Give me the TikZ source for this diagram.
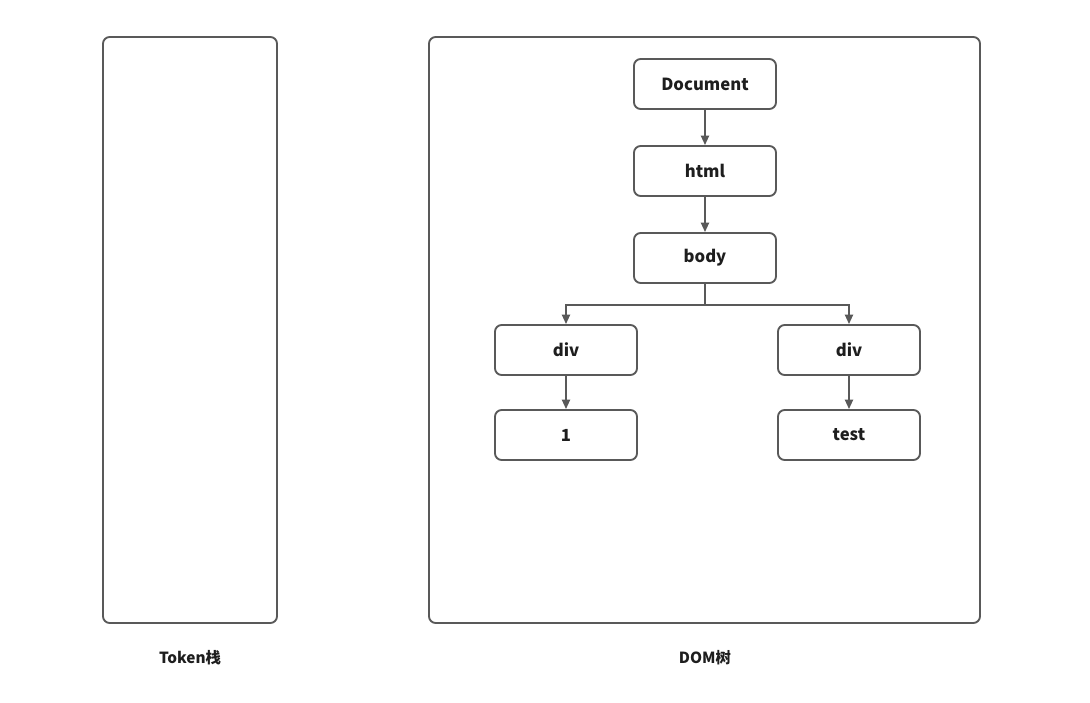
\documentclass[tikz,border=0pt]{standalone}
\usepackage{fontspec}
\setmainfont{Noto Sans CJK SC}
\usetikzlibrary{arrows.meta}
\definecolor{linegray}{HTML}{595959}
\definecolor{textdark}{HTML}{1E1E1E}

\begin{document}
\begin{tikzpicture}[x=0.75pt, y=-0.75pt, font=\bfseries, line width=1.4pt,
  tnode/.style={draw=linegray, rounded corners=5pt, minimum width=106.5pt, minimum height=37.5pt, inner sep=0pt, text=textdark, font=\fontsize{12.5}{14}\bfseries},
  panel/.style={draw=linegray, rounded corners=5pt, inner sep=0pt},
  caption/.style={text=textdark, font=\fontsize{11.5}{13}\bfseries},
  link/.style={draw=linegray, -{Triangle[length=7pt,width=6pt]}}]
	\useasboundingbox (0,0) rectangle (1090,703);
	% two containers
	\node[panel, minimum width=130.5pt, minimum height=439.5pt] (stack) at (190,330) {};
	\node[panel, minimum width=413.25pt, minimum height=439.5pt] (dom) at (704.5,330) {};
	\node[caption] (stacklabel) at (190,658) {Token栈};
	\node[caption] (domlabel) at (705,658) {DOM树};
	% tree
	\node[tnode] (document) at (705,84) {Document};
	\node[tnode] (html) at (705,171) {html};
	\node[tnode] (body) at (705,258) {body};
	\node[tnode] (divl) at (566,350) {div};
	\node[tnode] (divr) at (849,350) {div};
	\node[tnode] (one) at (566,435) {1};
	\node[tnode] (test) at (849,435) {test};
	\draw[link] (document) -- (html);
	\draw[link] (html) -- (body);
	\draw[link] (body.south) -- ++(0,21) -| (divl.north);
	\draw[link] (body.south) -- ++(0,21) -| (divr.north);
	\draw[link] (divl) -- (one);
	\draw[link] (divr) -- (test);
\end{tikzpicture}
\end{document}
